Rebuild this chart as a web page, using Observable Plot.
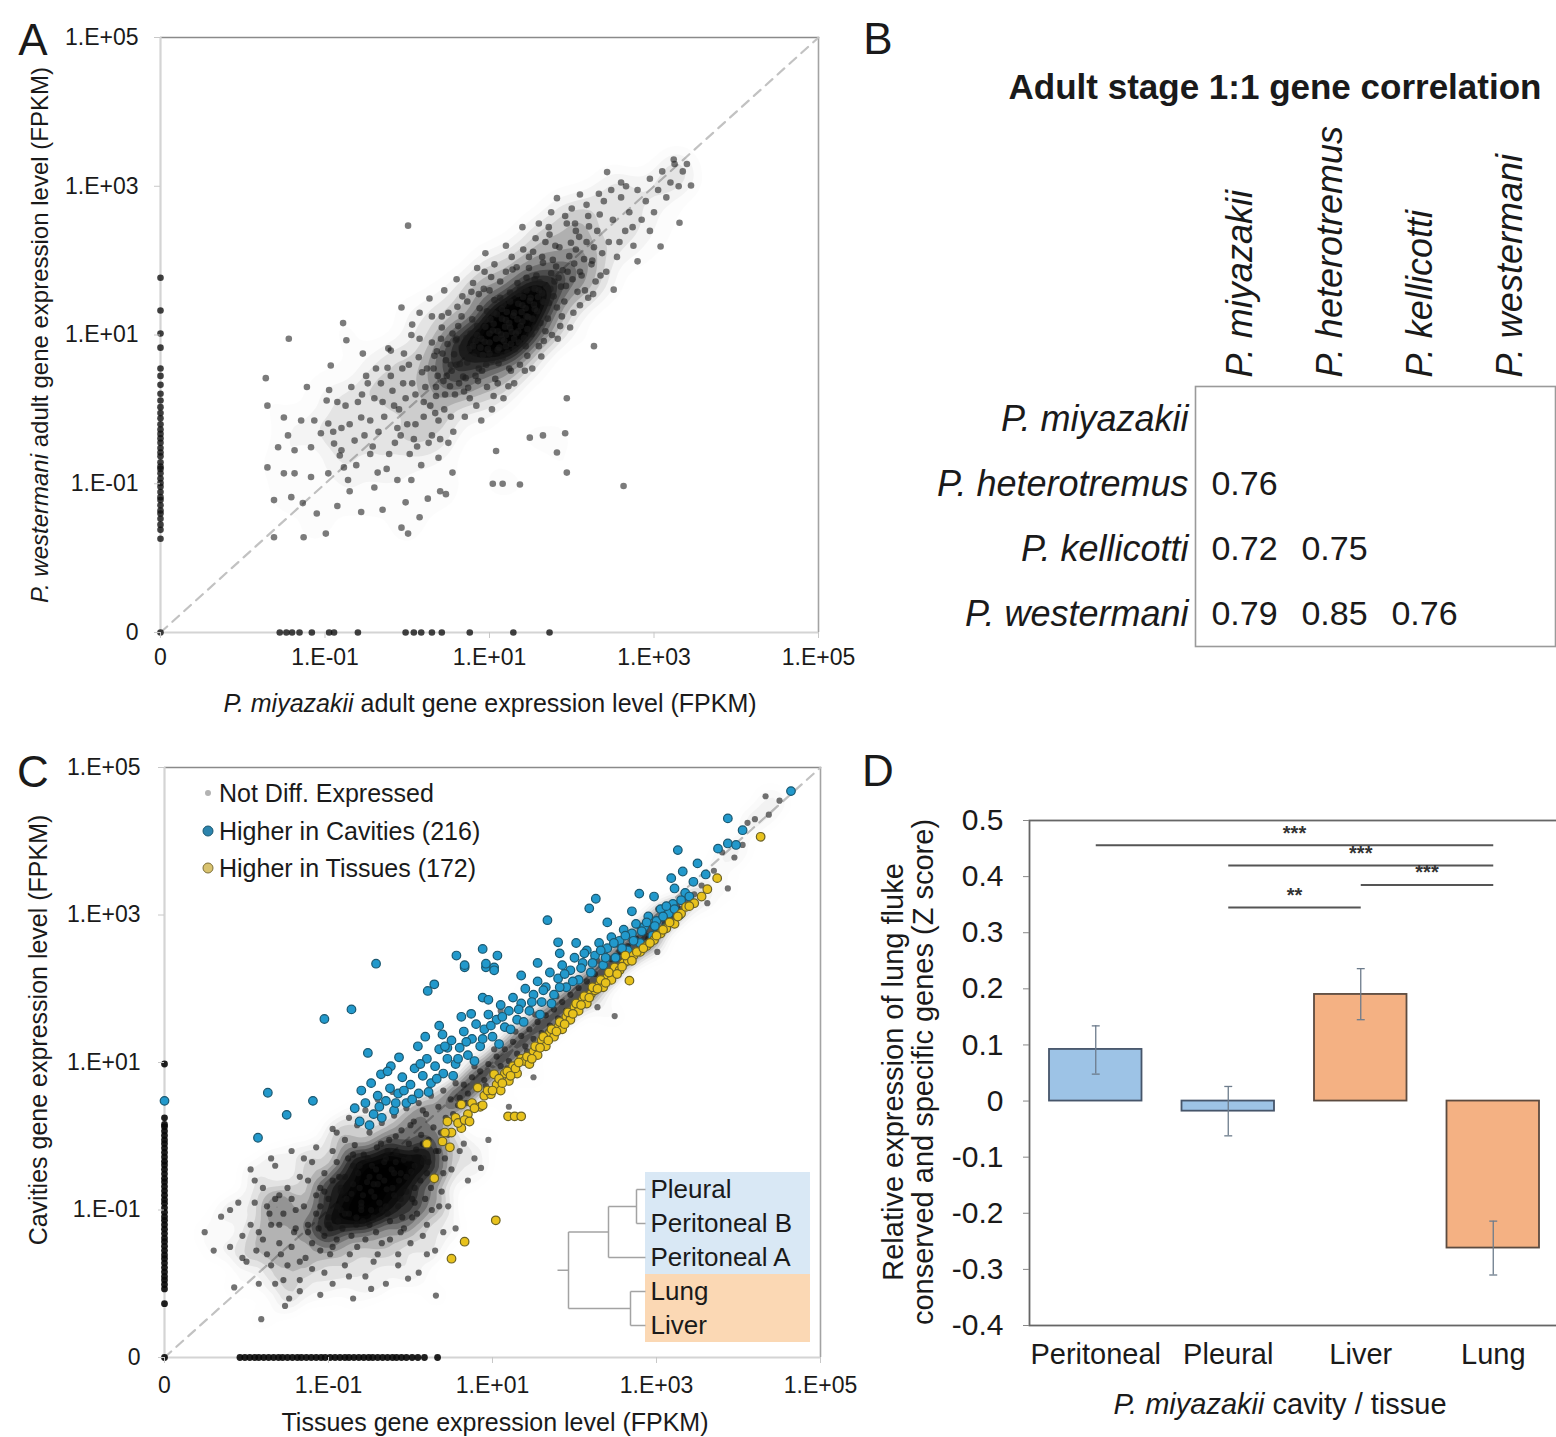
<!DOCTYPE html>
<html><head><meta charset="utf-8">
<script src="https://cdn.jsdelivr.net/npm/d3@7"></script>
<script src="https://cdn.jsdelivr.net/npm/@observablehq/plot@0.6"></script>
<style>
html,body{margin:0;padding:0;background:#fff;}
#fig{position:relative;width:1556px;height:1437px;overflow:hidden;background:#fff;font-family:"Liberation Sans",Arial,Helvetica,sans-serif;color:#1a1a1a;}
#fig svg{position:absolute;overflow:visible;}
.t{position:absolute;white-space:nowrap;line-height:1.15;text-align:center;}
.dot{position:absolute;border-radius:50%;transform:translate(-50%,-50%);}
</style></head>
<body><div id="fig"></div>
<script>
// ---------- shared ----------
const Z = -Infinity;            // log10(0): gene not detected
const AXIS_MIN = -3, AXIS_MAX = 5;
const logTicks = [-3, -1, 1, 3, 5];

// ---------- Panel A data (log10 FPKM: [P. miyazakii, P. westermani]) ----------
const aPairs = [
[-1.70,0.05],[-1.72,0.42],[-1.50,-0.11],[-1.29,-0.15],[-1.13,-0.15],[-0.96,-0.19],[-1.57,-0.51],[-1.37,-0.55],[-1.17,-0.51],[-1.70,-0.78],[-1.50,-0.86],[-1.37,-0.86],[-1.17,-0.91],[-0.96,-0.86],[-1.62,-1.22],[-1.41,-1.18],[-1.27,-1.26],[-1.62,-1.72],[-1.26,-1.72],[-0.99,-1.67],[-0.89,-0.46],[-0.93,0.59],[-0.95,0.26],[-0.98,0.12],[-1.05,-0.32],[-0.82,-0.62],[-0.72,-0.95],[-0.77,-0.78],[-1.10,-1.40],[-0.85,-1.30],[-0.70,-1.10],[-1.45,-0.35],[-1.22,0.30],[-0.80,-0.25],[-0.75,0.05],[-1.44,0.95],[-0.78,1.16],[-0.74,0.93],
[-0.64,-0.42],[-0.56,-0.11],[-0.48,0.35],[-0.40,-1.05],[-0.56,-1.38],[-0.07,-1.59],[0.01,-1.67],[-0.24,0.56],[-0.20,0.79],[-0.45,-0.60],[-0.35,-0.30],[-0.30,0.10],[-0.25,-0.80],[-0.15,-0.45],[-0.10,0.00],[-0.05,0.35],[0.00,-0.20],[0.05,-0.95],[0.10,0.20],[0.12,-0.50],[0.18,0.50],[0.20,-0.10],[0.25,-1.20],[0.28,0.05],[0.30,-0.35],[0.33,0.72],[0.35,0.30],[0.38,-0.65],[-0.38,0.55],[-0.18,0.25],[-0.12,-0.25],[0.02,0.60],[0.08,-0.40],[0.15,0.95],[0.22,0.30],[-0.30,-1.35],[-0.02,-1.25],[0.15,-1.45],[0.40,-1.10],[0.45,0.00],[0.48,0.45],[0.42,1.10],[0.50,-0.45],[-0.55,0.20],[-0.45,-0.15],[0.30,1.25],[0.05,1.00],[0.55,-0.85],[0.58,0.20],[0.60,0.60],[-0.54,0.75],[-0.23,0.82],[-0.04,0.75],[-0.07,1.37],[0.27,1.49],[0.06,1.14],[0.15,1.30],[0.45,1.60],[0.60,1.75],[0.85,1.90],[0.95,2.10],[1.20,2.20],[1.40,2.45],[1.60,2.50],[1.75,2.65],
[0.32,0.55],[0.36,0.78],[0.41,0.95],[0.44,0.38],[0.47,0.66],[0.35,0.18],[0.49,0.88],[0.42,1.25],[0.38,-0.15],
[0.52,0.31],[0.54,0.52],[0.57,0.74],[0.59,0.93],[0.62,1.12],[0.64,0.61],[0.66,0.83],[0.68,0.44],[0.55,1.02],[0.69,0.24],[0.61,1.38],[0.53,-0.10],[0.67,1.52],
[0.71,0.42],[0.73,0.63],[0.75,0.81],[0.77,1.02],[0.79,1.21],[0.81,0.71],[0.83,0.92],[0.85,1.12],[0.87,0.55],[0.72,0.96],[0.88,1.36],[0.74,0.29],[0.84,0.05],[0.78,1.58],[0.86,0.38],[0.89,0.83],
[0.91,0.52],[0.92,0.73],[0.94,0.91],[0.95,1.11],[0.97,1.32],[0.98,0.81],[1.00,1.02],[1.01,1.21],[1.03,0.66],[1.04,1.06],[1.06,1.47],[1.07,0.41],[1.08,0.95],[1.09,1.28],[0.93,1.62],[1.05,0.18],[0.96,0.60],[1.02,1.78],
[1.11,0.62],[1.12,0.83],[1.14,1.01],[1.15,1.22],[1.17,1.41],[1.18,0.92],[1.19,1.11],[1.21,1.31],[1.22,0.76],[1.24,1.16],[1.25,1.57],[1.26,0.52],[1.27,1.04],[1.29,1.26],[1.13,1.72],[1.23,0.31],[1.16,0.70],[1.28,1.88],[1.20,1.00],[1.26,0.88],
[1.31,0.81],[1.32,1.02],[1.34,1.21],[1.35,1.42],[1.37,1.61],[1.38,1.12],[1.39,1.31],[1.41,1.51],[1.42,0.96],[1.44,1.36],[1.45,1.77],[1.46,0.72],[1.47,1.24],[1.49,1.46],[1.33,1.91],[1.43,0.52],[1.36,0.90],[1.48,2.05],[1.40,1.18],[1.46,1.08],
[1.51,1.01],[1.52,1.22],[1.54,1.41],[1.55,1.62],[1.57,1.80],[1.58,1.32],[1.59,1.51],[1.61,1.71],[1.62,1.16],[1.64,1.56],[1.65,1.97],[1.66,0.92],[1.67,1.44],[1.69,1.66],[1.53,2.12],[1.63,0.71],[1.56,1.10],[1.68,2.25],
[1.71,1.22],[1.72,1.43],[1.74,1.62],[1.75,1.83],[1.77,2.01],[1.78,1.52],[1.79,1.72],[1.81,1.92],[1.82,1.37],[1.84,1.77],[1.85,2.18],[1.86,1.12],[1.87,1.65],[1.89,1.87],[1.73,2.35],[1.83,0.95],
[1.91,1.45],[1.93,1.66],[1.95,1.85],[1.97,2.06],[1.99,2.24],[2.01,1.75],[2.03,1.96],[2.05,2.15],[2.07,1.58],[2.09,2.32],[1.94,2.50],[2.02,1.30],
[2.12,1.80],[2.15,2.02],[2.18,2.25],[2.21,2.46],[2.24,1.95],[2.27,2.18],[2.31,2.40],[2.34,2.62],[2.37,2.10],[2.39,2.80],[2.16,1.60],[2.29,1.72],
[2.05,2.40],[2.10,1.85],[2.20,2.60],[2.25,2.00],[2.35,1.80],[2.45,2.25],[2.50,2.55],[2.55,2.05],[2.60,2.85],[2.65,2.40],[2.70,2.65],[2.75,2.20],[2.80,2.95],[2.85,2.55],[2.90,2.80],[2.95,3.10],[3.00,2.65],[3.05,2.95],[3.10,3.20],[3.15,2.85],[3.20,3.05],[3.25,3.30],[3.30,3.00],[3.35,3.20],[3.08,2.19],[3.31,2.51],[2.80,1.99],[1.82,2.84],[2.10,2.89],[2.43,3.19],[2.51,1.61],[2.27,0.85],[3.45,3.01],[3.24,3.36],[2.60,3.05],[2.95,2.40],[2.20,1.50],[2.00,2.70],[3.40,3.30],
[0.01,2.47],[2.63,-1.03],[1.04,-1.00],[1.16,-1.00],[1.37,-1.01],[1.94,-0.85],[1.92,-0.32],[1.65,-0.35],[1.82,-0.58],[1.94,0.15],[1.49,-0.38],[1.08,-0.56],[0.47,-1.14],
[-0.90,-0.30],[-0.85,0.10],[-0.80,-0.55],[-0.70,-0.20],[-0.68,0.30],[-0.62,-0.75],[-0.60,0.10],[-0.52,-0.35],[-0.50,0.45],[-0.42,-0.50],[-0.40,0.15],[-0.36,-0.85],[-0.32,0.35],[-0.28,-0.10],[-0.22,-0.60],[-0.20,0.45],[-0.16,0.05],[-0.12,-0.95],[-0.08,-0.35],[-0.06,0.55],[-0.02,0.15],[0.03,-0.60],[0.06,0.35],[0.10,-0.20],[0.14,0.70],[0.17,-0.75],[0.20,0.10],[0.24,0.55],[0.26,-0.45],[0.30,0.90],[0.34,-0.05],[0.37,0.45],[0.40,-0.40],[0.43,0.75],[0.46,0.20],[0.50,1.30],[0.53,0.60],[0.56,-0.30],[0.60,0.95],[0.63,0.35],[0.66,1.25],[0.70,-0.10],[0.73,1.45],[0.76,0.15],[0.80,1.70],[0.83,0.45],[0.87,1.55],[0.90,-0.15],[0.94,1.85],[0.97,0.30],[1.00,1.60],[1.03,0.00],[1.06,1.95],[1.10,0.35],[1.13,1.50],[1.17,0.15],[1.20,1.85],[1.24,0.55],[1.27,2.05],[1.30,0.35],[1.34,1.70],[1.37,0.60],[1.41,2.15],[1.44,0.85],[1.48,1.90],[1.52,0.55],[1.56,2.30],[1.60,0.85],[1.64,2.05],[1.68,1.05],[1.72,2.45],[1.76,1.00],[1.80,2.20],[1.88,1.25],[1.92,2.60],[1.98,1.10],[2.04,2.50],[2.10,1.40],[2.18,2.75],[2.26,1.55],[2.33,2.90],[2.42,1.85],[2.48,2.95],[2.58,2.25],[2.66,3.00],[2.74,2.45],
[0.80,0.85],[0.90,0.95],[1.00,0.90],[1.05,1.15],[1.10,1.05],[1.15,0.95],[1.20,1.20],[1.25,1.10],[1.30,1.30],[1.35,1.05],[1.40,1.40],[1.45,1.25],[1.50,1.50],[1.55,1.35],[1.60,1.60],[1.65,1.45],[1.00,0.75],[1.10,0.80],[1.20,0.85],[1.30,0.95],[0.95,1.20],[1.05,1.30],[1.15,1.35],[1.25,1.45],[1.35,1.55],[1.45,1.60],[1.55,1.75],[0.85,1.00],[0.75,0.70],[0.70,0.90]
];
// genes not detected in P. miyazakii (x = 0): log10 FPKM in P. westermani
const aMiyZero = [-1.74,-1.62,-1.55,-1.47,-1.40,-1.36,-1.29,-1.22,-1.18,-1.11,-1.04,-0.99,-0.93,-0.86,-0.80,-0.77,-0.71,-0.63,-0.58,-0.52,-0.45,-0.39,-0.33,-0.27,-0.20,-0.12,-0.05,0.03,0.12,0.21,0.33,0.45,0.55,0.83,1.02,1.33,1.77,Z];
// genes not detected in P. westermani (y = 0): log10 FPKM in P. miyazakii
const aWesZero = [-1.55,-1.47,-1.40,-1.31,-1.16,-0.95,-0.89,-0.60,-0.02,0.08,0.17,0.30,0.42,0.76,1.29,1.73];

// ---------- Panel B data ----------
const bSpecies = ["P. miyazakii","P. heterotremus","P. kellicotti","P. westermani"];
const bCorr = [[], [0.76], [0.72, 0.75], [0.79, 0.85, 0.76]]; // lower triangle, rows x columns

// ---------- Panel C data (log10 FPKM: [Tissues, Cavities]) ----------
const cNotDiff = [
[-2.51,-1.30],[-2.31,-1.09],[-1.82,-2.48],[-1.53,-2.30],[0.31,-2.16],[-0.03,-1.93],[-0.48,-2.07],
[-2.20,-1.50],[-2.10,-0.90],[-2.00,-1.70],[-1.95,-1.20],[-1.90,-0.60],[-1.85,-2.00],[-1.80,-1.40],[-1.75,-0.95],[-1.70,-1.75],[-1.65,-0.40],[-1.60,-1.20],[-1.55,-1.95],[-1.50,-0.70],[-1.45,-1.50],[-1.40,-1.00],[-1.35,-2.10],[-1.30,-0.30],[-1.25,-1.30],[-1.20,-1.80],[-1.15,-0.80],[-1.10,-1.55],[-1.05,-0.50],[-1.00,-1.10],[-0.95,-2.00],[-0.90,-1.40],[-0.85,-0.70],[-0.80,-1.75],[-0.75,-1.05],[-0.70,-0.40],[-0.65,-1.50],[-0.60,-0.90],[-0.55,-1.90],[-0.50,-1.20],[-0.45,-0.65],[-0.40,-1.60],[-0.35,-1.00],[-0.30,-0.30],[-0.25,-1.40],[-0.20,-0.80],[-0.15,-1.75],[-0.10,-1.10],[-0.05,-0.55],[0.00,-1.45],[0.05,-0.90],[0.10,-1.85],[0.15,-0.35],[0.20,-1.20],[0.25,-0.70],[0.30,-1.55],[0.35,-0.95],[0.40,-0.50],
[-2.05,-1.35],[-1.88,-1.55],[-1.72,-1.05],[-1.58,-1.60],[-1.42,-1.30],[-1.28,-1.65],[-1.12,-1.25],[-0.98,-1.60],[-0.88,-1.15],[-0.72,-1.35],[-0.58,-1.15],[-0.42,-1.30],[-0.28,-1.05],[-0.12,-1.30],[0.02,-1.10],[-1.60,-0.80],[-1.35,-0.55],[-1.20,-0.35],[-0.95,-0.20],[-0.80,-0.05],[-1.48,-2.20],[-1.10,-2.15],[-0.70,-2.20],[-0.30,-2.00],[0.20,-1.60],[-2.40,-1.55],[-2.15,-2.05],
[-0.80,-0.55],[-0.76,-0.30],[-0.72,-0.78],[-0.68,-0.12],[-0.64,-0.50],[-0.60,-0.95],[-0.57,-0.25],[-0.53,-0.62],[-0.50,0.05],[-0.47,-0.40],[-0.44,-0.82],[-0.41,-0.15],[-0.38,-0.55],[-0.35,0.18],[-0.32,-0.35],[-0.29,-0.72],[-0.26,-0.05],[-0.23,-0.45],[-0.20,0.28],[-0.17,-0.22],[-0.14,-0.60],[-0.11,0.08],[-0.08,-0.32],[-0.05,0.38],[-0.02,-0.10],[0.01,-0.48],[0.04,0.20],[0.07,-0.18],[0.10,0.45],[0.13,0.02],[0.16,-0.30],[0.19,0.30],[0.22,-0.05],[0.25,0.55],[0.28,0.12],[0.31,-0.20],[0.34,0.40],[0.37,0.05],[0.40,0.62],[0.43,0.25],[0.46,0.02],[0.49,0.50],[0.52,0.30],[0.55,0.72],[0.58,0.42],[-0.90,-0.35],[-0.85,-1.00],[-0.66,-1.10],[-0.48,-1.00],[-0.30,-0.95],[-0.12,-0.85],[0.05,-0.70],[0.20,-0.50],[-0.95,0.10],[-0.75,0.25],[-0.55,0.35],[-0.40,0.50],[-0.22,0.60],[-1.05,-0.75],[-0.98,-1.25],[-0.62,-0.70],[-0.36,-0.10],[-0.18,0.00],[0.00,0.15],[0.15,0.35],
[0.60,0.52],[0.65,0.70],[0.70,0.58],[0.75,0.80],[0.80,0.66],[0.85,0.88],[0.90,0.76],[0.95,0.98],[1.00,0.85],[1.05,1.08],[1.10,0.95],[1.15,1.18],[1.20,1.02],[1.25,1.28],[1.30,1.12],[1.35,1.36],[1.40,1.22],[1.45,1.45],[1.50,1.32],[1.55,1.55],[1.60,1.40],[1.65,1.64],[1.70,1.50],[1.75,1.72],[1.80,1.60],[1.85,1.82],[1.90,1.70],[1.95,1.92],[2.00,1.80],[2.05,2.01],[2.10,1.90],[2.15,2.10],[2.20,2.00],[2.25,2.20],[2.30,2.10],[2.35,2.30],[2.40,2.18],[2.45,2.40],[2.50,2.28],[2.55,2.50],[2.60,2.38],[2.65,2.58],[2.70,2.48],[2.75,2.68],[2.80,2.58],[2.85,2.78],[2.90,2.68],[2.95,2.86],[3.00,2.78],[3.05,2.95],[3.10,2.88],[3.15,3.05],[3.20,2.98],[3.25,3.12],[3.30,3.08],[3.38,3.20],[3.46,3.28],[3.55,3.40],[0.68,0.45],[0.92,0.68],[1.18,0.92],[1.42,1.15],[1.68,1.42],[1.92,1.66],[2.18,1.92],[2.42,2.15],[2.68,2.42],[2.92,2.64],[0.78,0.95],[1.02,1.18],[1.28,1.42],[1.52,1.65],[1.78,1.90],[2.02,2.12],[2.28,2.38],[2.52,2.60],[2.78,2.85],[3.02,3.08],
[4.33,4.61],[4.37,4.36],[4.11,4.25],[3.62,3.16],[3.87,3.36],[3.01,2.50],[2.49,1.63],[2.28,1.75],[0.78,-0.30],[0.86,-0.43],[3.70,3.60],[3.95,3.78],[4.05,3.95],[4.20,4.30],[4.50,4.55],[3.80,3.85],[1.20,0.40],[1.50,0.80],[0.65,-0.10],[0.95,-0.05],[1.10,1.70],[1.40,2.00],[0.60,1.20],
[-1.90,-0.90],[-1.85,-1.30],[-1.80,-0.70],[-1.75,-1.60],[-1.70,-1.20],[-1.65,-0.85],[-1.60,-1.45],[-1.55,-1.05],[-1.50,-1.75],[-1.45,-0.85],[-1.40,-1.25],[-1.35,-1.70],[-1.30,-0.95],[-1.25,-0.60],[-1.20,-1.45],[-1.15,-1.05],[-1.10,-0.70],[-1.05,-1.35],[-1.00,-0.85],[-0.95,-1.50],[-0.90,-0.95],[-0.87,-0.55],[-0.83,-1.25],[-0.78,-0.85],[-0.74,-1.60],[-0.70,-0.65],[-0.66,-1.20],[-0.62,-0.40],[-0.58,-0.80],[-0.55,-1.40],[-0.52,-0.30],[-0.48,-0.75],[-0.45,-1.10],[-0.42,-0.45],[-0.38,-0.90],[-0.35,-1.45],[-0.32,-0.60],[-0.28,-0.20],[-0.25,-1.15],[-0.22,-0.70],[-0.18,-0.35],[-0.15,-0.95],[-0.12,-0.50],[-0.08,-1.25],[-0.05,-0.75],[-0.02,-0.30],[0.02,-0.85],[0.05,-0.40],[0.08,-1.05],[0.12,-0.60],[0.15,-0.10],[0.18,-0.85],[0.22,-0.35],[0.26,-1.00],[0.30,-0.55],[0.34,-0.20],[0.38,-0.75],[0.42,-0.30],[0.46,-0.95],[0.50,-0.45],[-1.65,-2.00],[-1.35,-1.95],[-1.05,-1.85],[-0.75,-1.90],[-0.45,-1.70],[-0.15,-1.60],[0.15,-1.35],[-2.20,-1.00],[-2.05,-1.65],[-1.95,-0.45],[-1.70,-0.30],[-1.45,-0.20],[-1.15,-0.15],[-0.90,0.05],[-0.65,0.15],[-1.25,-1.20],[-1.00,-1.20],[-0.80,-1.05],[-0.60,-1.00],[-0.40,-0.65],[-0.20,-0.50],[-0.95,-0.60],[-0.70,-0.25],[-0.50,-0.55],[-1.10,-0.95],[-0.85,-0.75],[0.60,-0.20],[0.70,-0.60],[0.55,-1.25],[0.40,-1.30]
];
const cNotDiffTisZero = [-2.27,-2.07,-2.01,-1.95,-1.90,-1.84,-1.78,-1.72,-1.66,-1.61,-1.55,-1.49,-1.43,-1.38,-1.32,-1.26,-1.20,-1.14,-1.09,-1.03,-0.97,-0.91,-0.86,-0.80,-0.74,-0.68,-0.62,-0.57,-0.51,-0.45,-0.39,-0.34,-0.28,-0.22,-0.16,-0.10,-0.05,0.01,0.07,0.13,0.16,0.25,0.98,Z];
const cNotDiffCavZero = [-2.08,-2.02,-1.96,-1.90,-1.85,-1.79,-1.73,-1.67,-1.61,-1.56,-1.50,-1.44,-1.38,-1.33,-1.27,-1.21,-1.15,-1.09,-1.04,-0.98,-0.92,-0.86,-0.80,-0.75,-0.69,-0.63,-0.57,-0.51,-0.46,-0.40,-0.34,-0.28,-0.22,-0.17,-0.11,-0.05,0.02,0.09,0.17,0.33];
const cHigherCavities = [
[Z,0.48],
[-0.42,2.34],[-0.72,1.72],[-1.05,1.59],[-1.74,0.59],[-1.51,0.29],[-1.19,0.48],[-1.86,-0.02],[-0.52,1.13],[-0.36,0.84],[-0.24,0.95],[-0.14,1.07],[0.09,1.22],[0.21,1.97],[0.29,2.06],[0.56,2.45],[0.66,2.29],[0.88,2.54],[0.92,2.29],[1.02,2.29],[0.88,1.88],[0.74,1.66],[0.39,1.38],[0.45,1.20],[1.06,2.45],
[-0.68,0.38],[-0.62,0.20],[-0.55,0.45],[-0.50,0.15],[-0.45,0.30],[-0.40,0.55],[-0.35,0.25],[-0.30,0.48],[-0.25,0.65],[-0.20,0.35],[-0.15,0.58],[-0.10,0.80],[-0.05,0.45],[0.00,0.70],[0.05,0.92],[0.10,0.58],[0.15,0.82],[0.20,1.05],[0.25,0.72],[0.30,0.95],[0.35,1.18],[0.40,0.85],[0.45,1.05],[0.50,1.30],[0.55,0.98],[0.60,1.20],[0.65,1.42],[0.70,1.10],[0.75,1.32],[0.80,1.52],[0.85,1.22],[0.90,1.45],[0.95,1.65],[1.00,1.35],[1.05,1.58],[1.10,1.78],[1.15,1.48],[1.20,1.70],[1.25,1.88],[1.30,1.58],[1.35,1.80],[1.40,2.00],[1.45,1.70],[1.50,1.92],[1.55,2.10],[1.60,1.82],[1.65,2.02],[1.70,2.22],[1.75,1.92],[1.80,2.14],[1.85,2.32],[1.90,2.02],[1.95,2.25],[2.00,2.42],[2.05,2.12],[2.10,2.35],[2.15,2.52],[2.20,2.22],[2.25,2.45],[2.30,2.62],[2.35,2.32],[2.40,2.55],[2.45,2.70],[2.50,2.42],[2.55,2.65],[2.60,2.80],[2.65,2.52],[2.70,2.75],[2.75,2.88],[2.80,2.62],[2.85,2.84],[2.90,2.98],[2.95,2.72],[3.00,2.92],[3.05,3.08],[3.10,2.82],[3.15,3.02],[3.20,3.15],[3.28,3.00],[3.35,3.30],
[-0.60,0.62],[-0.48,0.72],[-0.38,0.40],[-0.28,0.88],[-0.18,0.45],[-0.08,0.62],[0.02,0.50],[0.12,0.98],[0.22,0.60],[0.32,0.78],[0.42,1.22],[0.52,0.82],[0.58,1.05],[0.68,1.28],[0.78,1.02],[0.88,1.32],[0.98,1.50],[1.08,1.25],[1.12,1.62],[1.22,1.45],[1.32,1.72],[1.38,1.55],[1.48,1.82],[1.58,1.65],[1.62,1.98],[1.72,1.80],[1.82,2.02],[1.88,2.20],[1.98,2.10],[2.08,2.28],[2.12,2.48],[2.22,2.35],[2.32,2.52],[2.38,2.42],[2.48,2.62],[2.58,2.55],[2.62,2.72],[2.72,2.65],[2.82,2.78],[2.88,2.90],[2.98,2.85],[3.08,2.98],[3.12,3.12],[3.22,3.08],[3.30,3.20],[3.40,3.25],[3.45,3.45],[3.60,3.55],[3.75,3.90],[0.18,1.35],[0.35,1.50],[0.62,1.62],[0.95,1.85],[1.35,2.18],[1.55,2.35],[2.02,2.62],[2.40,2.90],[2.70,3.05],
[4.64,4.68],[3.87,4.31],[3.87,3.97],[3.97,3.95],[3.26,3.88],[3.32,3.59],[3.18,3.50],[2.79,3.29],[2.97,3.25],[3.22,3.36],[2.26,3.22],[2.18,3.09],[1.67,2.93],[1.80,2.63],[1.82,2.48],[0.66,2.32],[0.92,2.34],[1.02,2.25],[4.05,4.15],[3.50,3.70]
];
const cHigherTissues = [
[0.20,-0.10],[0.29,-0.57],[0.39,-0.07],[0.45,0.20],[0.50,0.05],[0.55,0.25],[0.62,0.11],[0.62,0.43],[0.70,0.30],[0.75,0.45],[0.82,0.66],[0.85,0.40],[0.90,0.55],[0.98,0.57],[1.02,0.84],[1.05,0.70],[1.10,0.62],[1.15,0.85],[1.20,0.75],[1.25,0.95],[1.30,0.85],[1.35,1.05],[1.39,1.02],[1.45,0.98],[1.50,1.15],[1.55,1.10],[1.60,1.30],[1.65,1.22],[1.70,1.40],[1.75,1.35],[1.80,1.48],[1.85,1.45],[1.90,1.62],[1.95,1.58],[2.00,1.75],[2.05,1.70],[2.10,1.85],[2.15,1.80],[2.20,1.93],[2.25,1.98],[2.30,2.05],[2.35,2.02],[2.40,2.15],[2.45,2.12],[2.49,2.29],[2.55,2.25],[2.60,2.35],[2.65,2.38],[2.67,2.11],[2.72,2.45],[2.80,2.50],[2.88,2.58],[2.97,2.66],[3.05,2.75],[3.12,2.82],[3.22,2.88],[3.30,3.02],[3.36,3.11],[3.46,3.16],[3.74,3.50],[4.27,4.06],
[0.42,0.05],[0.48,-0.15],[0.58,0.18],[0.66,0.22],[0.72,0.20],[0.78,0.38],[0.88,0.42],[0.94,0.62],[1.00,0.62],[1.08,0.78],[1.12,0.72],[1.18,0.88],[1.22,0.82],[1.28,0.92],[1.32,1.00],[1.42,1.08],[1.48,1.05],[1.52,1.22],[1.58,1.20],[1.62,1.35],[1.68,1.30],[1.72,1.45],[1.78,1.42],[1.82,1.55],[1.88,1.52],[1.92,1.68],[1.98,1.66],[2.02,1.80],[2.08,1.78],[2.12,1.90],[2.18,1.88],[2.22,2.02],[2.28,2.00],[2.32,2.12],[2.38,2.08],[2.42,2.22],[2.52,2.20],[2.58,2.30],[2.62,2.45],[2.70,2.38],[2.76,2.50],[2.84,2.55],[2.92,2.62],[3.00,2.72],[3.08,2.80],[3.16,2.90],[3.26,2.98],[3.40,3.12],[3.55,3.25],[3.62,3.35],
[1.04,-1.14],[0.66,-1.43],[0.50,-1.66],[1.19,0.27],[1.27,0.27],[1.35,0.27]
];
const cLegendLabels = ["Not Diff. Expressed","Higher in Cavities (216)","Higher in Tissues (172)"];
const dendroLeaves = ["Pleural","Peritoneal B","Peritoneal A","Lung","Liver"];
const dendroGroups = ["cavity","cavity","cavity","tissue","tissue"];
const dendroMerges = [["Pleural","Peritoneal B",0.09],["n0","Peritoneal A",0.37],["Lung","Liver",0.15],["n1","n2",0.77]];

// ---------- Panel D data ----------
const dCats = ["Peritoneal","Pleural","Liver","Lung"];
const dKind = ["cavity","cavity","tissue","tissue"];
const dMean = [0.092, -0.018, 0.190, -0.262];
const dLow  = [0.048, -0.062, 0.145, -0.310];
const dHigh = [0.134, 0.026, 0.236, -0.214];
const dTicks = [-0.4,-0.3,-0.2,-0.1,0,0.1,0.2,0.3,0.4,0.5];
const dSigFrom = ["Peritoneal","Pleural","Liver","Pleural"];
const dSigTo   = ["Lung","Lung","Lung","Liver"];
const dSigLevel = [0.456, 0.420, 0.385, 0.345];
const dSigText = ["***","***","***","**"];

// ---------- helpers ----------
const FONT = '"Liberation Sans", Arial, Helvetica, sans-serif';
const fig = document.getElementById("fig");
const pos = v => Math.max(v, AXIS_MIN);
const fmtLog = v => v === AXIS_MIN ? "0" : `1.E${v < 0 ? "-" : "+"}${String(Math.abs(v)).padStart(2, "0")}`;
function put(el, left, top) { el.style.left = left + "px"; el.style.top = top + "px"; fig.appendChild(el); }
function label(html, cx, cy, {size = 23, rotate = 0, weight = "normal", anchor = "middle", lh = null, color = "#1a1a1a"} = {}) {
  const d = document.createElement("div");
  d.className = "t"; d.innerHTML = html;
  d.style.fontSize = size + "px"; d.style.fontWeight = weight; d.style.color = color;
  if (lh) d.style.lineHeight = lh + "px";
  d.style.left = cx + "px"; d.style.top = cy + "px";
  d.style.transform = `translate(${anchor === "start" ? "0" : "-50%"},-50%)` + (rotate ? ` rotate(${rotate}deg)` : "");
  fig.appendChild(d);
}
const toRows = (pairs) => pairs.map(([x, y]) => ({x, y}));
const px = d => pos(d.x), py = d => pos(d.y);
// density shading: only the crowded core turns dark (transparent at low density)
const densityColor = (exponent) => ({type: "pow", exponent, range: ["rgba(0,0,0,0)", "rgba(0,0,0,0.8)"], interpolate: d3.interpolateRgb});

function scatter({width, height, margins, layers, xPad, yPad, exponent}) {
  return Plot.plot({
    width, height, ...margins,
    x: {type: "linear", domain: [AXIS_MIN, AXIS_MAX]},
    y: {type: "linear", domain: [AXIS_MIN, AXIS_MAX]},
    color: densityColor(exponent),
    style: {fontFamily: FONT, fontSize: "23px", color: "#1a1a1a", background: "transparent", overflow: "visible"},
    marks: [
      Plot.ruleY([AXIS_MAX], {stroke: "#8a8a8a", strokeWidth: 1.6}),
      Plot.ruleX([AXIS_MAX], {stroke: "#a3a3a3", strokeWidth: 1.6}),
      Plot.ruleY([AXIS_MIN], {stroke: "#d4d4d4", strokeWidth: 2.2}),
      Plot.ruleX([AXIS_MIN], {stroke: "#d4d4d4", strokeWidth: 2.2}),
      Plot.line([AXIS_MIN, AXIS_MAX], {x: d => d, y: d => d, stroke: "#c2c2c2", strokeWidth: 2.2, strokeDasharray: "9,7"}),
      ...layers,
      Plot.axisX({ticks: logTicks, tickFormat: fmtLog, tickSize: 6, tickPadding: xPad, stroke: "#c8c8c8", fill: "#1a1a1a", fontSize: 23, label: null}),
      Plot.axisY({ticks: logTicks, tickFormat: fmtLog, tickSize: 6, tickPadding: yPad, stroke: "#c8c8c8", fill: "#1a1a1a", fontSize: 23, label: null})
    ]
  });
}

// ---------- Panel A ----------
const aCloud = toRows(aPairs);
const aZeroRows = [...aMiyZero.map(y => ({x: Z, y})), ...aWesZero.map(x => ({x, y: Z}))];
const aPlot = scatter({
  width: 840, height: 720,
  margins: {marginTop: 37, marginLeft: 160, marginRight: 22, marginBottom: 88},
  xPad: 10, yPad: 16, exponent: 1.6,
  layers: [
    Plot.density(aCloud, {x: px, y: py, bandwidth: 11, thresholds: 16, fill: "density", stroke: "none"}),
    Plot.dot(aCloud, {x: px, y: py, r: 3.3, fill: "#1c1c1c", fillOpacity: 0.58}),
    Plot.dot(aZeroRows, {x: px, y: py, r: 3.3, fill: "#111", fillOpacity: 0.8})
  ]
});
put(aPlot, 0, 0);

// ---------- Panel B ----------
const bCells = bCorr.flatMap((row, i) => row.map((r, j) => ({row: bSpecies[i], col: bSpecies[j], r})));
const bPlot = Plot.plot({
  width: 696, height: 700, marginLeft: 335, marginRight: 1, marginTop: 386, marginBottom: 54,
  x: {type: "band", domain: bSpecies, padding: 0},
  y: {type: "band", domain: bSpecies, padding: 0},
  style: {fontFamily: FONT, fontSize: "33px", color: "#1a1a1a", background: "transparent", overflow: "visible"},
  marks: [
    Plot.frame({stroke: "#9a9a9a", strokeWidth: 1.6}),
    Plot.text(bCells, {x: "col", y: "row", text: d => d.r.toFixed(2), fontSize: 34, dx: 4}),
    Plot.axisY({tickSize: 0, tickPadding: 7, fontSize: 36, fontStyle: "italic", label: null}),
    Plot.axisX({anchor: "top", tickSize: 0, tickPadding: 9, tickRotate: -90, fontSize: 36, fontStyle: "italic", label: null})
  ]
});
put(bPlot, 860, 0);

// ---------- Panel C ----------
const cNdCloud = toRows(cNotDiff);
const cZeroRows = [...cNotDiffTisZero.map(y => ({x: Z, y})), ...cNotDiffCavZero.map(x => ({x, y: Z}))];
const cPlot = scatter({
  width: 840, height: 707,
  margins: {marginTop: 37, marginLeft: 164, marginRight: 20, marginBottom: 80},
  xPad: 13, yPad: 18, exponent: 2.0,
  layers: [
    Plot.density(cNdCloud, {x: px, y: py, bandwidth: 9, thresholds: 16, fill: "density", stroke: "none"}),
    Plot.dot(cNdCloud, {x: px, y: py, r: 3.1, fill: "#141414", fillOpacity: 0.6}),
    Plot.dot(cZeroRows, {x: px, y: py, r: 3.4, fill: "#080808", fillOpacity: 0.9}),
    Plot.dot(toRows(cHigherCavities), {x: px, y: py, r: 4.3, fill: "#2299cc", stroke: "#1b5870", strokeWidth: 1.2}),
    Plot.dot(toRows(cHigherTissues), {x: px, y: py, r: 4.3, fill: "#e8c21c", stroke: "#6c6224", strokeWidth: 1.2})
  ]
});
put(cPlot, 0, 730);

// dendrogram inset
const dNodes = new Map(dendroLeaves.map((n, i) => [n, {y: i + 0.5, h: 0}]));
const dSegs = [];
dendroMerges.forEach(([a, b, h], k) => {
  const A = dNodes.get(a), B = dNodes.get(b);
  dSegs.push({x1: A.h, y1: A.y, x2: h, y2: A.y}, {x1: B.h, y1: B.y, x2: h, y2: B.y}, {x1: h, y1: A.y, x2: h, y2: B.y});
  dNodes.set("n" + k, {y: (A.y + B.y) / 2, h});
});
const root = dNodes.get("n" + (dendroMerges.length - 1));
dSegs.push({x1: root.h, y1: root.y, x2: root.h + 0.11, y2: root.y});
const dBoxes = ["cavity", "tissue"].map(g => {
  const idx = dendroGroups.map((v, i) => v === g ? i : -1).filter(i => i >= 0);
  return {g, y1: d3.min(idx), y2: d3.max(idx) + 1};
});
const dendro = Plot.plot({
  width: 280, height: 185, marginLeft: 17, marginRight: 10, marginTop: 7, marginBottom: 8,
  x: {domain: [0.88, -1.65], axis: null},
  y: {domain: [0, 5], reverse: true, axis: null},
  style: {fontFamily: FONT, fontSize: "26px", color: "#1a1a1a", background: "transparent", overflow: "visible"},
  marks: [
    Plot.rect(dBoxes, {x1: 0, x2: -1.65, y1: "y1", y2: "y2", fill: d => d.g === "cavity" ? "#d9e8f5" : "#fbd8b4"}),
    Plot.link(dSegs, {x1: "x1", y1: "y1", x2: "x2", y2: "y2", stroke: "#a3a3a3", strokeWidth: 1.5}),
    Plot.text(dendroLeaves, {x: 0, y: (d, i) => i + 0.5, text: d => d, textAnchor: "start", dx: 5, fontSize: 26, fill: "#1a1a1a"})
  ]
});
put(dendro, 540, 1165);

// ---------- Panel D ----------
const dRows = dCats.map((c, i) => ({c, i, mid: i + 0.5, kind: dKind[i], mean: dMean[i], lo: dLow[i], hi: dHigh[i]}));
const dSig = dSigFrom.map((f, k) => ({a: dCats.indexOf(f) + 0.5, b: dCats.indexOf(dSigTo[k]) + 0.5, y: dSigLevel[k], t: dSigText[k]}));
const fmtZ = v => Math.abs(v) < 1e-9 ? "0" : v.toFixed(1);
const barStyle = {cavity: {fill: "#9dc3e6", stroke: "#46556a"}, tissue: {fill: "#f4b183", stroke: "#5c4b40"}};
const dPlot = Plot.plot({
  width: 700, height: 677, marginLeft: 169, marginRight: 1, marginTop: 60, marginBottom: 112,
  x: {type: "linear", domain: [0, dCats.length]},
  y: {type: "linear", domain: [-0.4, 0.5]},
  style: {fontFamily: FONT, fontSize: "29px", color: "#1a1a1a", background: "transparent", overflow: "visible"},
  marks: [
    ...["cavity", "tissue"].map(k => Plot.rectY(dRows.filter(d => d.kind === k), {x1: "i", x2: d => d.i + 1, y1: 0, y2: "mean", insetLeft: 20, insetRight: 20, fill: barStyle[k].fill, stroke: barStyle[k].stroke, strokeWidth: 1.8})),
    Plot.ruleX(dRows, {x: "mid", y1: "lo", y2: "hi", stroke: "#6d7c8c", strokeWidth: 1.3}),
    Plot.link(dRows, {x1: d => d.mid - 0.03, x2: d => d.mid + 0.03, y1: "hi", y2: "hi", stroke: "#6d7c8c", strokeWidth: 1.3}),
    Plot.link(dRows, {x1: d => d.mid - 0.03, x2: d => d.mid + 0.03, y1: "lo", y2: "lo", stroke: "#6d7c8c", strokeWidth: 1.3}),
    Plot.link(dSig, {x1: "a", x2: "b", y1: "y", y2: "y", stroke: "#555", strokeWidth: 2}),
    Plot.text(dSig, {x: d => (d.a + d.b) / 2, y: "y", text: "t", dy: -12, fontSize: 20, fontWeight: "bold", fill: "#333"}),
    Plot.frame({stroke: "#666", strokeWidth: 1.8}),
    Plot.axisY({ticks: dTicks, tickFormat: fmtZ, tickSize: 6, tickPadding: 20, stroke: "#888", fill: "#1a1a1a", fontSize: 30, label: null}),
    Plot.axisX({ticks: dRows.map(d => d.mid), tickFormat: v => dCats[Math.floor(v)], tickSize: 0, tickPadding: 18, fill: "#1a1a1a", fontSize: 29, label: null})
  ]
});
put(dPlot, 860, 760);

// ---------- text ----------
label("A", 33, 40, {size: 44});
label("B", 878, 39, {size: 44});
label("C", 33, 772, {size: 44});
label("D", 878, 771, {size: 44});
label("<i>P. westermani</i> adult gene expression level (FPKM)", 40, 335, {rotate: -90, size: 24});
label("<i>P. miyazakii</i> adult gene expression level (FPKM)", 490, 703, {size: 25});
label("Cavities gene expression level (FPKM)", 38, 1030, {rotate: -90, size: 25});
label("Tissues gene expression level (FPKM)", 495, 1422, {size: 25});
label("Adult stage 1:1 gene correlation", 1275, 87, {size: 35, weight: "bold"});
label("Relative expression of lung fluke<br>conserved and specific genes (Z score)", 908, 1072, {size: 29, rotate: -90, lh: 30});
label("<i>P. miyazakii</i> cavity / tissue", 1280, 1405, {size: 29});

// legend for C
const legendY = [793, 831, 868];
const legendDot = [
  {size: 6, bg: "#b3b3b3", border: "none"},
  {size: 9, bg: "#2c84ad", border: "1px solid #1b5870"},
  {size: 9, bg: "#d8c26e", border: "1px solid #7d6f3a"}
];
cLegendLabels.forEach((t, i) => {
  const d = document.createElement("div");
  d.className = "dot";
  Object.assign(d.style, {left: "208px", top: legendY[i] + "px", width: legendDot[i].size + "px", height: legendDot[i].size + "px", background: legendDot[i].bg, border: legendDot[i].border});
  fig.appendChild(d);
  label(t, 219, legendY[i], {size: 25, anchor: "start"});
});
</script></body></html>
